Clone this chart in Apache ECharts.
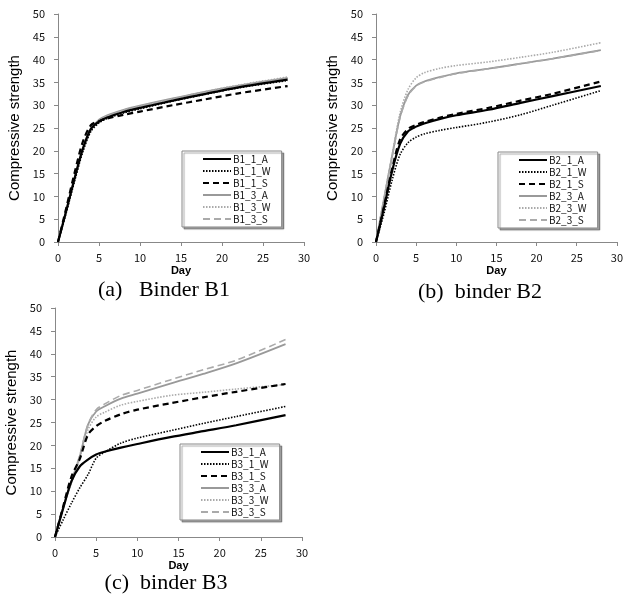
<!DOCTYPE html>
<html>
<head>
<meta charset="utf-8">
<script src="https://cdn.jsdelivr.net/npm/echarts@6/dist/echarts.min.js"></script>
<style>
	html, body { margin: 0; padding: 0; background: #fff; }
	#chart { width: 626px; height: 601px; }
</style>
</head>
<body>
<div id="chart"></div>
<script>
// 龄期（天）
var days = [0, 1, 2, 3, 4, 5, 6, 8, 10, 14, 18, 22, 28]

// (a) Binder B1
var namesA = ['B1_1_A', 'B1_1_W', 'B1_1_S', 'B1_3_A', 'B1_3_W', 'B1_3_S']
var B1_1_A = [0, 6.8, 13.8, 20.3, 24.8, 26.4, 27.3, 28.5, 29.4, 31.0, 32.5, 33.9, 35.6]
var B1_1_W = [0, 6.4, 13.2, 19.6, 24.2, 26.1, 27.1, 28.3, 29.2, 30.9, 32.4, 33.8, 35.4]
var B1_1_S = [0, 7.4, 15.0, 21.8, 25.6, 26.5, 27.1, 27.9, 28.6, 30.0, 31.3, 32.6, 34.2]
var B1_3_A = [0, 6.9, 13.8, 20.2, 24.6, 26.8, 27.8, 29.0, 29.9, 31.5, 33.0, 34.3, 36.0]
var B1_3_W = [0, 6.6, 13.4, 19.8, 24.3, 26.5, 27.6, 28.9, 29.8, 31.4, 33.0, 34.4, 36.2]
var B1_3_S = [0, 6.8, 13.6, 20.0, 24.5, 26.6, 27.6, 28.8, 29.7, 31.3, 32.8, 34.1, 35.8]

// (b) binder B2
var namesB = ['B2_1_A', 'B2_1_W', 'B2_1_S', 'B2_3_A', 'B2_3_W', 'B2_3_S']
var B2_1_A = [0, 7.5, 15.5, 21.5, 24.3, 25.3, 26.0, 27.0, 27.8, 29.0, 30.5, 32.0, 34.2]
var B2_1_W = [0, 6.3, 13.5, 19.2, 21.8, 23.0, 23.7, 24.5, 25.1, 26.3, 27.9, 30.0, 33.2]
var B2_1_S = [0, 7.8, 16.0, 22.5, 24.8, 25.7, 26.3, 27.3, 28.1, 29.4, 31.0, 32.5, 35.2]
var B2_3_A = [0, 9.5, 18.8, 27.5, 32.3, 34.3, 35.2, 36.2, 37.0, 38.0, 39.1, 40.2, 42.1]
var B2_3_W = [0, 9.6, 19.0, 28.3, 33.5, 36.0, 37.1, 38.1, 38.7, 39.5, 40.5, 41.6, 43.7]
var B2_3_S = [0, 9.4, 18.6, 27.3, 32.1, 34.2, 35.1, 36.1, 36.9, 38.0, 39.1, 40.2, 42.0]

// (c) binder B3
var namesC = ['B3_1_A', 'B3_1_W', 'B3_1_S', 'B3_3_A', 'B3_3_W', 'B3_3_S']
var B3_1_A = [0, 6.3, 12.2, 15.4, 16.9, 18.0, 18.6, 19.5, 20.3, 21.8, 23.1, 24.4, 26.6]
var B3_1_W = [0, 3.8, 7.4, 10.7, 13.6, 17.2, 18.5, 20.5, 21.6, 23.2, 24.8, 26.3, 28.5]
var B3_1_S = [0, 6.7, 13.2, 17.0, 22.3, 24.2, 25.3, 26.8, 27.8, 29.2, 30.5, 31.7, 33.4]
var B3_3_A = [0, 6.5, 12.0, 17.5, 24.5, 27.4, 28.5, 30.2, 31.3, 33.5, 35.6, 37.9, 42.1]
var B3_3_W = [0, 6.3, 11.8, 17.2, 23.4, 26.2, 27.2, 28.8, 29.6, 30.9, 31.6, 32.3, 33.3]
var B3_3_S = [0, 6.6, 12.2, 17.8, 24.5, 27.8, 29.0, 30.9, 32.0, 34.3, 36.5, 38.6, 43.1]

// 坐标轴刻度
var xTicks = [0, 5, 10, 15, 20, 25, 30]
var yTicks = [0, 5, 10, 15, 20, 25, 30, 35, 40, 45, 50]

var captions = ['(a)   Binder B1', '(b)  binder B2', '(c)  binder B3']

// 线型：黑实/黑点/黑虚/灰实/灰点/灰虚
var styles = [
	{ color: '#000', width: 2.2, type: 'solid' },
	{ color: '#000', width: 1.6, type: [1.5, 1.5] },
	{ color: '#000', width: 2.2, type: [6, 4] },
	{ color: '#999', width: 1.8, type: 'solid' },
	{ color: '#aaa', width: 1.6, type: [1.5, 1.5] },
	{ color: '#aaa', width: 1.6, type: [7, 4] }
]

var tickFont = '"Noto Sans CJK KR", "Liberation Sans", sans-serif'

// 面板位置
var grids = [
	{ left: 58, top: 14, width: 246, height: 228 },
	{ left: 376, top: 14, width: 246, height: 228 },
	{ left: 55, top: 308, width: 247, height: 229 }
]
var legendPos = [
	{ left: 182, top: 151 },
	{ left: 498, top: 152 },
	{ left: 180, top: 444 }
]
var captionPos = [
	{ left: 164, top: 279 },
	{ left: 480, top: 281 },
	{ left: 166, top: 572 }
]

function pairs(arr) {
	return days.map(function(d, i) { return [d, arr[i]] })
}

var groups = [
	{ names: namesA, data: [B1_1_A, B1_1_W, B1_1_S, B1_3_A, B1_3_W, B1_3_S] },
	{ names: namesB, data: [B2_1_A, B2_1_W, B2_1_S, B2_3_A, B2_3_W, B2_3_S] },
	{ names: namesC, data: [B3_1_A, B3_1_W, B3_1_S, B3_3_A, B3_3_W, B3_3_S] }
]

var option = {
	animation: false,
	backgroundColor: '#fff',
	grid: grids,
	title: [],
	legend: [],
	xAxis: [],
	yAxis: [],
	series: []
}

groups.forEach(function(g, gi) {
	option.xAxis.push({
		type: 'value',
		gridIndex: gi,
		min: xTicks[0],
		max: xTicks[xTicks.length - 1],
		interval: xTicks[1] - xTicks[0],
		name: 'Day',
		nameLocation: 'middle',
		nameGap: 23,
		nameTextStyle: { fontFamily: 'Liberation Sans', fontWeight: 'bold', fontSize: 11, color: '#000' },
		axisLine: { lineStyle: { color: '#888', width: 1 } },
		axisTick: { show: true, length: 4, lineStyle: { color: '#888' } },
		axisLabel: { margin: 10, fontFamily: tickFont, fontSize: 11, color: '#111' },
		splitLine: { show: false }
	})
	option.yAxis.push({
		type: 'value',
		gridIndex: gi,
		min: yTicks[0],
		max: yTicks[yTicks.length - 1],
		interval: yTicks[1] - yTicks[0],
		name: 'Compressive strength',
		nameLocation: 'middle',
		nameGap: 36,
		nameTextStyle: { fontFamily: 'Liberation Sans', fontSize: 15, color: '#000' },
		axisLine: { show: true, lineStyle: { color: '#888', width: 1 } },
		axisTick: { show: true, length: 4, lineStyle: { color: '#888' } },
		axisLabel: { margin: 13, fontFamily: tickFont, fontSize: 11, color: '#111' },
		splitLine: { show: false }
	})
	g.names.forEach(function(n, si) {
		var s = styles[si]
		option.series.push({
			name: n,
			type: 'line',
			xAxisIndex: gi,
			yAxisIndex: gi,
			data: pairs(g.data[si]),
			symbol: 'none',
			smooth: 0.3,
			z: si < 3 ? 3 : 2,
			itemStyle: { color: s.color },
			lineStyle: { color: s.color, width: s.width, type: s.type }
		})
	})
	option.legend.push({
		data: g.names,
		orient: 'vertical',
		left: legendPos[gi].left,
		top: legendPos[gi].top,
		itemWidth: 28,
		itemHeight: 12,
		itemGap: 2,
		padding: [3, 11, 3, 20],
		backgroundColor: '#fff',
		borderColor: '#888',
		borderWidth: 1,
		shadowColor: 'rgba(0,0,0,0.35)',
		shadowOffsetX: 2,
		shadowOffsetY: 2,
		shadowBlur: 1,
		itemStyle: { opacity: 0 },
		textStyle: { fontFamily: tickFont, fontSize: 10, color: '#111', padding: [0, 0, 0, -3] }
	})
	option.title.push({
		text: captions[gi],
		left: captionPos[gi].left,
		top: captionPos[gi].top,
		textAlign: 'center',
		padding: 0,
		textStyle: { fontFamily: 'Liberation Serif', fontSize: 22, fontWeight: 'normal', color: '#000' }
	})
})

var chart = echarts.init(document.getElementById('chart'))
chart.setOption(option)
</script>
</body>
</html>
